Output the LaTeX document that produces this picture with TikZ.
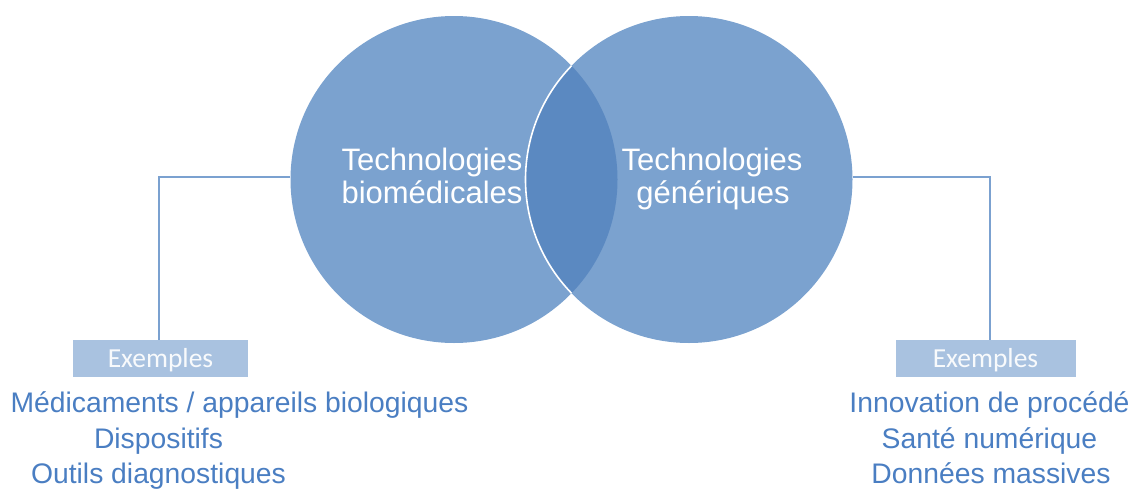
\documentclass[tikz,border=0pt]{standalone}
\usepackage{fontspec}
\setmainfont{Liberation Sans}
\newfontfamily\calibrifont{Carlito}
\begin{document}
\definecolor{circfill}{HTML}{7BA2CF}
\definecolor{lensfill}{HTML}{5B89C1}
\definecolor{boxfill}{HTML}{A9C2E0}
\definecolor{linkcol}{HTML}{7BA1D0}
\definecolor{txtblue}{HTML}{4A7EC2}
\begin{tikzpicture}[x=1pt,y=-1pt,
  techcircle/.style={circle,fill=circfill,minimum size=327pt,inner sep=0pt},
  title/.style={text=white,font=\fontsize{31}{34}\selectfont,anchor=base,inner sep=0pt},
  exbox/.style={fill=boxfill,minimum height=37pt,inner sep=0pt,text=white!92!boxfill,
    text height=17.7pt,text depth=0pt,
    font=\calibrifont\fontsize{27.5}{29}\selectfont},
  item/.style={text=txtblue,font=\fontsize{28.3}{32}\selectfont,anchor=base,inner sep=0pt},
  link/.style={draw=linkcol,line width=1.2pt}]
\useasboundingbox (0,0) rectangle (1133,490);

% the two overlapping circles
\node[techcircle] (bio) at (454,179.5) {};
\node[techcircle] (gen) at (689,179.5) {};
% darker lens where they overlap
\begin{scope}
  \clip (454,179.5) circle (163.5);
  \fill[lensfill] (689,179.5) circle (163.5);
  \draw[white,line width=1.6pt] (689,179.5) circle (163.5);
\end{scope}

% circle titles
\node[title] (bioA) at (432,170) {Technologies};
\node[title] (bioB) at (432,203) {biomédicales};
\node[title] (genA) at (712,170) {Technologies};
\node[title] (genB) at (713,203) {génériques};

% example boxes
\node[exbox,minimum width=175pt] (exL) at (160.5,358.5) {Exemples};
\node[exbox,minimum width=180pt] (exR) at (985.5,358.5) {Exemples};

% connectors from the circles down to the boxes
\coordinate (kneeL) at (159,177);
\coordinate (kneeR) at (990,177);
\draw[link] (bio.west |- kneeL) -- (kneeL) -- (kneeL |- exL.north);
\draw[link] (gen.east |- kneeR) -- (kneeR) -- (kneeR |- exR.north);

% example lists
\node[item] (l1) at (239.5,412) {Médicaments / appareils biologiques};
\node[item] (l2) at (158.5,448) {Dispositifs};
\node[item] (l3) at (158.5,483) {Outils diagnostiques};
\node[item] (r1) at (989.5,412) {Innovation de procédé};
\node[item] (r2) at (989.5,448) {Santé numérique};
\node[item] (r3) at (991,483) {Données massives};
\end{tikzpicture}
\end{document}
